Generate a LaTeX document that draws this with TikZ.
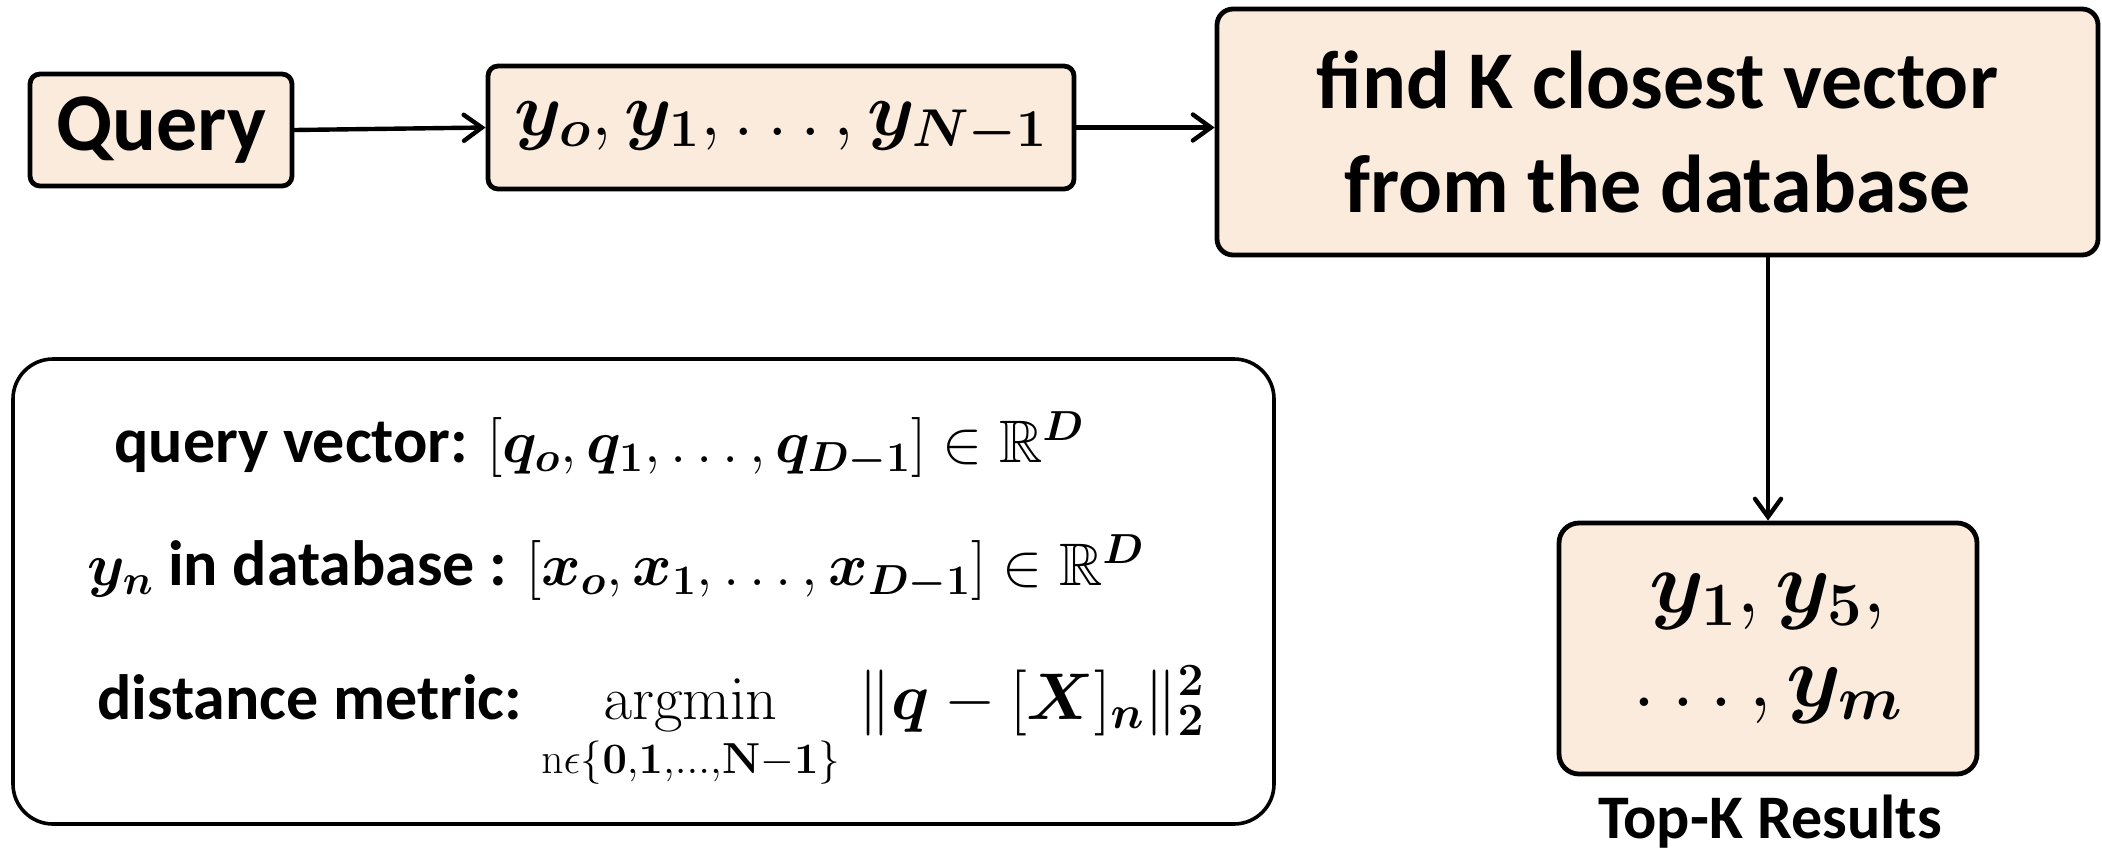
\RequirePackage{fix-cm}
\documentclass[tikz,border=0pt]{standalone}
\usepackage[no-math]{fontspec}
\setmainfont{Carlito}
\usepackage{amsmath,amssymb,bm}
\DeclareFontFamily{U}{msb}{}
\DeclareFontShape{U}{msb}{m}{n}{<-> msbm10}{}
\usetikzlibrary{arrows.meta}
\definecolor{boxfill}{HTML}{FAEBDD}
\begin{document}
\begin{tikzpicture}[x=0.5pt,y=-0.5pt,
  box/.style={draw=black, line width=2.4pt, fill=boxfill, rounded corners=#1, inner sep=0pt, align=center},
  arr/.style={line width=2.2pt, line cap=round, -{Straight Barb[length=9pt,width=13pt,line width=2.2pt,line cap=round]}},
  bigtxt/.style={font=\fontsize{41}{52}\selectfont\bfseries},
  line/.style={anchor=base west, inner sep=0pt, font=\fontsize{32}{38}\selectfont\bfseries}]
\useasboundingbox (0,0) rectangle (2102,852);
% top row
\node[box=5pt, minimum width=131pt, minimum height=56pt, bigtxt] (query) at (161,130) {Query};
\node[box=5pt, minimum width=293pt, minimum height=61.5pt, font=\fontsize{38}{46}\selectfont] (ylist) at (781,127.5)
  {$\bm{y_{o}},\bm{y_{1}},\ldots,\bm{y_{N-1}}$};
\node[box=8pt, minimum width=440.5pt, minimum height=123pt, bigtxt] (find) at (1657.5,132)
  {find K closest vector\\from the database};
% results
\node[box=10pt, minimum width=209pt, minimum height=125.5pt, font=\fontsize{44}{47}\selectfont] (results) at (1768,648.5)
  {$\bm{y_{1}},\bm{y_{5}},$\\[0pt]$\ldots,\bm{y_{m}}$};
\node[font=\fontsize{31}{36}\selectfont\bfseries, anchor=base, inner sep=0pt] (topk) at (1770,838) {Top-K Results};
% formula box
\node[draw=black, line width=1.8pt, fill=white, rounded corners=20pt, minimum width=630.5pt, minimum height=232.5pt] (formula) at (643.5,591.5) {};
\node[line] (l1) at (114,462) {query vector: {\fontsize{30}{36}\selectfont$[\bm{q_{o}},\bm{q_{1}},\ldots,\bm{q_{D-1}}]\in\mathbb{R}^{\bm{D}}$}};
\node[line] (l2) at (87,585) {{\fontsize{30}{36}\selectfont$\bm{y_{n}}$} in database : {\fontsize{30}{36}\selectfont$[\bm{x_{o}},\bm{x_{1}},\ldots,\bm{x_{D-1}}]\in\mathbb{R}^{\bm{D}}$}};
\node[line] (l3) at (97,719) {distance metric: {\fontsize{31}{36}\selectfont$\displaystyle\operatorname*{argmin}_{\mathrm{n}\epsilon\{\mathbf{0},\mathbf{1},\ldots,\mathbf{N}-\mathbf{1}\}}$}\hspace{9pt}{\fontsize{33}{38}\selectfont$\lVert\bm{q}-[\bm{X}]_{\bm{n}}\rVert_{\mathbf{2}}^{\mathbf{2}}$}};
% connectors
\draw[arr] (query.east) -- (ylist.west);
\draw[arr] (ylist.east) -- (ylist.east -| find.west);
\draw[arr] (results.north |- find.south) -- (results.north);
\end{tikzpicture}
\end{document}
